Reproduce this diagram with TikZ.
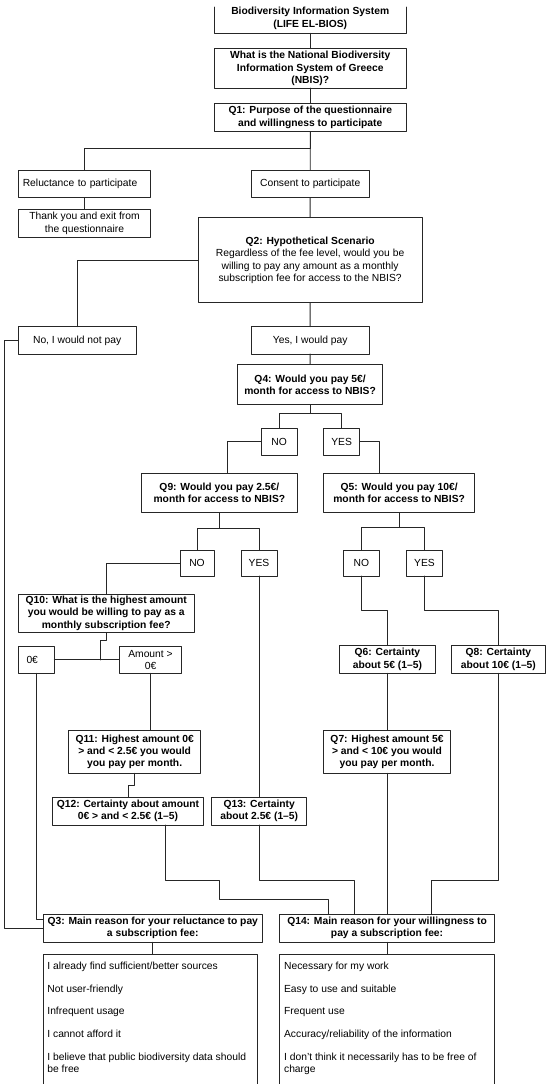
\documentclass[tikz,border=0pt]{standalone}
\usepackage{fontspec}
\setmainfont{Liberation Sans}
\usepackage{tikz}

\begin{document}
\begin{tikzpicture}[line cap=round,line join=round,x=1pt,y=-1pt,
  box/.style={draw=black!85,line width=0.9pt,inner sep=0pt,outer sep=0pt,align=center,font=\fontsize{10.3}{12.3}\selectfont},
  qbox/.style={box,font=\fontsize{10.3}{12.3}\selectfont\bfseries},
  link/.style={draw=black!85,line width=0.9pt},
  items/.style={inner sep=0pt,outer sep=0pt,align=left,anchor=north west,font=\fontsize{10.3}{12.3}\selectfont}]
\useasboundingbox (0,0) rectangle (550,1084);
\fill[white] (0,0) rectangle (550,1084);
\clip (0,0) rectangle (550,1084);

\node[qbox,draw=none,minimum width=192pt,minimum height=29.9pt] (intro) at (310.25,18.35) {Biodiversity Information System\\(LIFE EL-BIOS)};
\draw[link] ([yshift=-3.6pt]intro.north west) -- (intro.south west) -- (intro.south east) -- ([yshift=-3.6pt]intro.north east);
\node[qbox,minimum width=192pt,minimum height=39.3pt] (nbis) at (310.25,68.35) {What is the National Biodiversity\\Information System of Greece\\(NBIS)?};
\node[qbox,minimum width=192pt,minimum height=28.4pt] (q1) at (310.25,117.5) {Q1: Purpose of the questionnaire\\and willingness to participate};
\node[box,minimum width=132.6pt,minimum height=27.7pt,text width=123.4pt,inner xsep=4.6pt,align=left] (reluct) at (84.5,183.85) {Reluctance to participate};
\node[box,minimum width=118.2pt,minimum height=27.7pt] (consent) at (310.2,183.85) {Consent to participate};
\node[box,minimum width=132.6pt,minimum height=28pt] (thank) at (84.5,223.3) {Thank you and exit from\\the questionnaire};
\node[box,minimum width=223.8pt,minimum height=85pt] (q2) at (310.1,260.2) {\textbf{Q2: Hypothetical Scenario}\\Regardless of the fee level, would you be\\willing to pay any amount as a monthly\\subscription fee for access to the NBIS?};
\node[box,minimum width=117.9pt,minimum height=27.3pt] (nopay) at (77.15,340.35) {No, I would not pay};
\node[box,minimum width=118.2pt,minimum height=27.3pt] (yespay) at (310.2,340.35) {Yes, I would pay};
\node[qbox,minimum width=145.2pt,minimum height=40.4pt] (q4) at (310.1,384.5) {Q4: Would you pay 5€/\\month for access to NBIS?};
\node[box,minimum width=36.4pt,minimum height=27pt] (no1) at (279.2,441.8) {NO};
\node[box,minimum width=35.8pt,minimum height=27pt] (yes1) at (341.6,441.8) {YES};
\node[qbox,minimum width=156pt,minimum height=39.7pt] (q9) at (219.4,492.85) {Q9: Would you pay 2.5€/\\month for access to NBIS?};
\node[qbox,minimum width=151.5pt,minimum height=39.7pt] (q5) at (399.15,492.85) {Q5: Would you pay 10€/\\month for access to NBIS?};
\node[box,minimum width=34.1pt,minimum height=25.5pt] (no2) at (197,563.25) {NO};
\node[box,minimum width=36.1pt,minimum height=25.5pt] (yes2) at (259,563.25) {YES};
\node[box,minimum width=36pt,minimum height=25.5pt] (no3) at (361.3,563.25) {NO};
\node[box,minimum width=35.6pt,minimum height=25.5pt] (yes3) at (424.5,563.25) {YES};
\node[qbox,minimum width=176pt,minimum height=38.5pt] (q10) at (106.2,613.25) {Q10: What is the highest amount\\you would be willing to pay as a\\monthly subscription fee?};
\node[box,minimum width=36.2pt,minimum height=26.8pt,text width=19.6pt,inner xsep=8.3pt,align=left] (zero) at (36.3,659.9) {0€};
\node[box,minimum width=62.4pt,minimum height=26.8pt] (amount) at (150.5,659.9) {Amount >\\0€};
\node[qbox,minimum width=96.4pt,minimum height=27.8pt] (q6) at (387.4,659.4) {Q6: Certainty\\about 5€ (1–5)};
\node[qbox,minimum width=94pt,minimum height=27.8pt] (q8) at (498.4,659.4) {Q8: Certainty\\about 10€ (1–5)};
\node[qbox,minimum width=131.9pt,minimum height=43.3pt] (q11) at (134.65,751.65) {Q11: Highest amount 0€\\> and < 2.5€ you would\\you pay per month.};
\node[qbox,minimum width=127.3pt,minimum height=43.3pt] (q7) at (387.05,751.65) {Q7: Highest amount 5€\\> and < 10€ you would\\you pay per month.};
\node[qbox,minimum width=150.8pt,minimum height=27.7pt] (q12) at (128,811.15) {Q12: Certainty about amount\\0€ > and < 2.5€ (1–5)};
\node[qbox,minimum width=95.4pt,minimum height=27.7pt] (q13) at (259.2,811.15) {Q13: Certainty\\about 2.5€ (1–5)};
\node[qbox,minimum width=219.3pt,minimum height=28.3pt] (q3) at (152.75,928.15) {Q3: Main reason for your reluctance to pay\\a subscription fee:};
\node[qbox,minimum width=215.1pt,minimum height=28.3pt] (q14) at (387.05,928.15) {Q14: Main reason for your willingness to\\pay a subscription fee:};
\node[box,minimum width=214.7pt,minimum height=140pt] (nolist) at (150.45,1024.3) {};
\node[box,minimum width=215.1pt,minimum height=140pt] (yeslist) at (387.05,1024.3) {};
\node[items] (noitems) at ([xshift=4.3pt,yshift=-7.9pt]nolist.north west) {I already find sufficient/better sources\\[10.3pt]Not user-friendly\\[10.3pt]Infrequent usage\\[10.3pt]I cannot afford it\\[10.3pt]I believe that public biodiversity data should\\be free};
\node[items] (yesitems) at ([xshift=4.6pt,yshift=-7.9pt]yeslist.north west) {Necessary for my work\\[10.3pt]Easy to use and suitable\\[10.3pt]Frequent use\\[10.3pt]Accuracy/reliability of the information\\[10.3pt]I don't think it necessarily has to be free of\\charge};

\draw[link] (intro) -- (nbis);
\draw[link] (nbis) -- (q1);
\draw[link] (q1) -- (consent);
\draw[link] (q1.south) -- ++(0,16.6) -| (reluct.north);
\draw[link] (reluct) -- (thank);
\draw[link] (consent) -- (q2);
\draw[link] (q2.west) -| (nopay.north);
\draw[link] (q2) -- (yespay);
\draw[link] (nopay.west) -- ++(-13.6,0) |- (q3.west);
\draw[link] (yespay) -- (q4);
\draw[link] (q4.south) -- ++(0,8.6) -| (no1.north);
\draw[link] (q4.south) -- ++(0,8.6) -| (yes1.north);
\draw[link] (no1.west) -| ([xshift=7.9pt]q9.north);
\draw[link] (yes1.east) -| ([xshift=-19.95pt]q5.north);
\draw[link] (q9.south) -- ++(0,15.6) -| (no2.north);
\draw[link] (q9.south) -- ++(0,15.6) -| (yes2.north);
\draw[link] (q5.south) -- ++(0,15) -| (no3.north);
\draw[link] (q5.south) -- ++(0,15) -| (yes3.north);
\draw[link] (no2.west) -| (q10.north);
\draw[link] (yes2.south) -- (yes2.south |- q13.north);
\draw[link] (no3.south) -- ++(0,34.7) -| (q6.north);
\draw[link] (yes3.south) -- ++(0,34.7) -| (q8.north);
\coordinate (split) at (100.7,659.9);
\draw[link] (zero) -- (amount);
\draw[link] (q10.south) -- ++(0,7.5) -| (split);
\draw[link] (amount.south) -- (amount.south |- q11.north);
\draw[link] (q11.south) -- ++(0,11.7) -| (q12.north);
\draw[link] ([xshift=37.6pt]q12.south) |- ++(54.3,55) -- ++(0,19) -| ([xshift=-59.05pt]q14.north);
\draw[link] (q13.south) -- ++(0,55) -| ([xshift=-32.75pt]q14.north);
\draw[link] (q6.south) -- (q6.south |- q7.north);
\draw[link] (q7) -- (q14);
\draw[link] (q8.south) -- ++(0,206.7) -| ([xshift=44.35pt]q14.north);
\draw[link] (zero.south) |- ([yshift=8.85pt]q3.west);
\draw[link] (q3.south) -- (q3.south |- nolist.north);
\draw[link] (q14) -- (yeslist);
\end{tikzpicture}
\end{document}
